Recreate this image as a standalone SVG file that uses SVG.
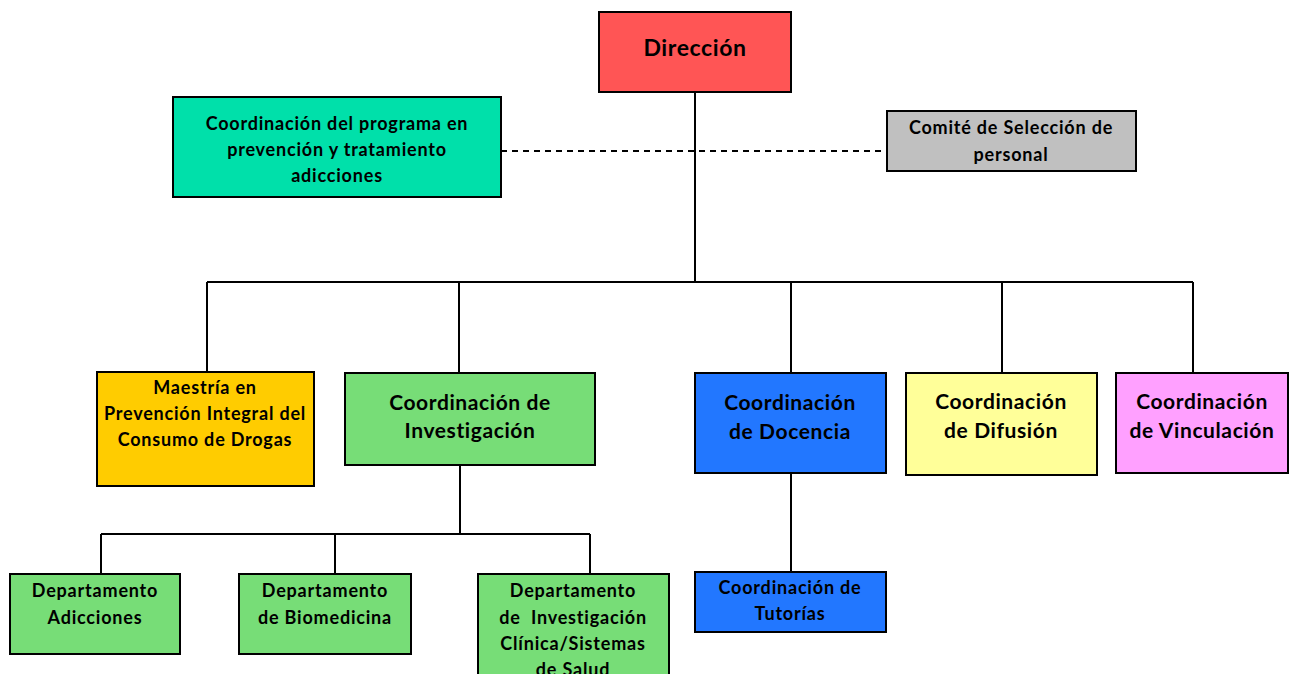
<svg xmlns="http://www.w3.org/2000/svg" width="1289" height="674" viewBox="0 0 1289 674">
<style>
.b{stroke:#000;stroke-width:2}
text{font-family:Lato,"Open Sans","Liberation Sans",sans-serif;font-weight:bold;fill:#000;text-anchor:middle}
.s{font-size:18px;letter-spacing:0.8px}
.m{font-size:21px;letter-spacing:0.6px}
.l{font-size:23px;letter-spacing:0.6px}
.c{stroke:#000;stroke-width:2;fill:none}
</style>
<rect width="1289" height="674" fill="#fff"/>
<g id="connectors">
<path class="c" d="M695 92V282M207 282H1193M207 282V372M459 282V373M791 282V373M1002 282V373M1193 282V373"/>
<path class="c" d="M501 151H887" stroke-dasharray="6 5"/>
<path class="c" d="M460 465V534M101 534H590M101 534V574M335 534V574M590 534V574"/>
<path class="c" d="M791 473V572"/>
</g>
<g id="direccion"><rect class="b" x="599" y="12" width="192" height="80" fill="#FF5555"/><text class="l" x="695" y="56">Dirección</text></g>
<g id="coord-programa"><rect class="b" x="173" y="97" width="328" height="100" fill="#00E0AA"/>
<text class="s" x="337" y="130">Coordinación del programa en</text><text class="s" x="337" y="156">prevención y tratamiento</text><text class="s" x="337" y="182">adicciones</text></g>
<g id="comite"><rect class="b" x="887" y="111" width="249" height="60" fill="#C0C0C0"/>
<text class="s" x="1011" y="134">Comité de Selección de</text><text class="s" x="1011" y="161">personal</text></g>
<g id="maestria"><rect class="b" x="97" y="372" width="217" height="114" fill="#FFCC00"/>
<text class="s" x="205" y="394">Maestría en</text><text class="s" x="205" y="420">Prevención Integral del</text><text class="s" x="205" y="446">Consumo de Drogas</text></g>
<g id="coord-investigacion"><rect class="b" x="345" y="373" width="250" height="92" fill="#77DD77"/>
<text class="m" x="470" y="410">Coordinación de</text><text class="m" x="470" y="438">Investigación</text></g>
<g id="coord-docencia"><rect class="b" x="695" y="373" width="191" height="100" fill="#2277FF"/>
<text class="m" x="790" y="410">Coordinación</text><text class="m" x="790" y="439">de Docencia</text></g>
<g id="coord-difusion"><rect class="b" x="906" y="373" width="191" height="102" fill="#FFFF99"/>
<text class="m" x="1001" y="409">Coordinación</text><text class="m" x="1001" y="438">de Difusión</text></g>
<g id="coord-vinculacion"><rect class="b" x="1116" y="373" width="172" height="100" fill="#FFA0FF"/>
<text class="m" x="1202" y="409">Coordinación</text><text class="m" x="1202" y="438">de Vinculación</text></g>
<g id="dep-adicciones"><rect class="b" x="10" y="574" width="170" height="80" fill="#77DD77"/>
<text class="s" x="95" y="597">Departamento</text><text class="s" x="95" y="624">Adicciones</text></g>
<g id="dep-biomedicina"><rect class="b" x="239" y="574" width="172" height="80" fill="#77DD77"/>
<text class="s" x="325" y="597">Departamento</text><text class="s" x="325" y="624">de Biomedicina</text></g>
<g id="dep-clinica"><rect class="b" x="478" y="574" width="191" height="110" fill="#77DD77"/>
<text class="s" x="573" y="597">Departamento</text><text class="s" x="573" y="624" xml:space="preserve">de  Investigación</text><text class="s" x="573" y="650">Clínica/Sistemas</text><text class="s" x="573" y="676">de Salud</text></g>
<g id="coord-tutorias"><rect class="b" x="695" y="572" width="191" height="60" fill="#2277FF"/>
<text class="s" x="790" y="594">Coordinación de</text><text class="s" x="790" y="620">Tutorías</text></g>
</svg>
